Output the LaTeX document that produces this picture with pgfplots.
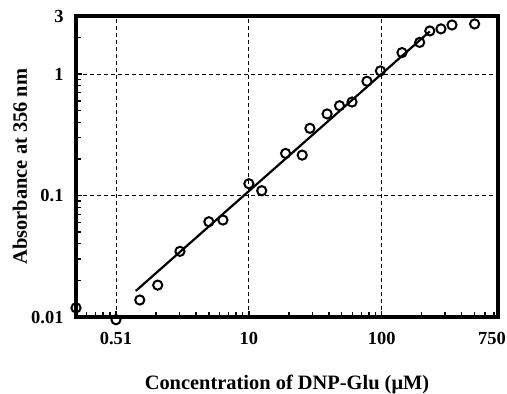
\documentclass[border=0pt]{standalone}
\usepackage{fontspec}
\setmainfont{Liberation Serif}
\usepackage{pgfplots}
\pgfplotsset{compat=1.18}
\begin{document}
\begin{tikzpicture}
\begin{loglogaxis}[
  scale only axis, width=422bp, height=301bp,
  xmin=0.5, xmax=750, ymin=0.01, ymax=3,
  xtick={1,10,100}, xticklabels={0.51,10,100},
  extra x ticks={750}, extra x tick labels={750},
  extra x tick style={xticklabel style={xshift=-6bp}},
  ytick={0.01,0.1,1,3}, yticklabels={0.01,0.1,1,3},
  minor xtick={0.6,0.7,0.8,0.9,2,3,4,5,6,7,8,9,20,30,40,50,60,70,80,90,200,300,400,500,600,700},
  minor ytick={0.02,0.03,0.04,0.05,0.06,0.07,0.08,0.09,0.2,0.3,0.4,0.5,0.6,0.7,0.8,0.9,2},
  tick pos=left, tick align=inside,
  major tick length=6bp, minor tick length=5bp,
  every tick/.style={black, line width=1.3bp},
  axis line style={line width=3.2bp},
  grid=major,
  major grid style={black, dash pattern=on 4bp off 3bp, line width=0.9bp},
  ticklabel style={font=\fontsize{18.5}{22}\selectfont\bfseries},
  yticklabel style={xshift=-9bp},
  xticklabel style={yshift=-12bp},
  label style={font=\fontsize{20.5}{24}\selectfont\bfseries},
  xlabel={Concentration of DNP-Glu (μM)},
  ylabel={Absorbance at 356 nm},
  xlabel style={at={(axis description cs:0.5,-0.2425)}, anchor=base},
  ylabel style={at={(axis description cs:-0.1327,0.5)}, anchor=center},
  clip=false,
]
\addplot[black, line width=2.2bp] coordinates {(1.41,0.0164) (230,2.24)};
\addplot[only marks, mark=o, mark size=4.6bp, black, line width=2bp,
  mark options={fill=white}] coordinates {
(0.5,0.0119) (1,0.0095) (1.51,0.0138) (2.06,0.0183) (3.03,0.0347)
(5.0,0.0608) (6.38,0.0628) (10,0.125) (12.5,0.1095) (18.9,0.222)
(25.2,0.215) (28.8,0.357) (38.8,0.469) (48.1,0.548) (59.8,0.588)
(77.4,0.871) (97.7,1.06) (142,1.50) (193,1.82) (230,2.26)
(279,2.35) (338,2.53) (500,2.58)
};
\end{loglogaxis}
\pgfresetboundingbox
\path (current axis.south west) ++(-76bp,-77bp) rectangle ++(507bp,394bp);
\end{tikzpicture}
\end{document}
